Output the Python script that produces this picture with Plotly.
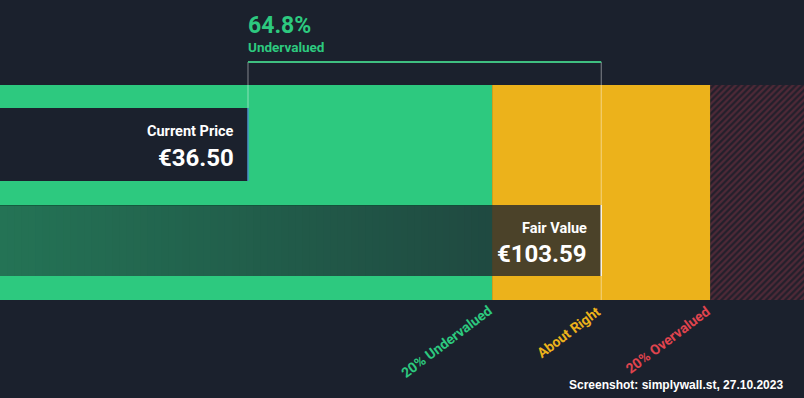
import plotly.graph_objects as go

# ---- data ----
current_price = 36.50
fair_value = 103.59
undervalued_pct = 64.8
zone_labels = ["20% Undervalued", "About Right", "20% Overvalued"]
zone_factors = [0.8, 1.2]
currency = "€"
footer = "Screenshot: simplywall.st, 27.10.2023"

BG = "#1b212d"
GREEN = "#2dc97f"
YELLOW = "#ecb21b"
RED = "#e0444e"
FONT = "Roboto"

xmin, xmax = -10.6, 142.1
lo = fair_value * zone_factors[0]
hi = fair_value * zone_factors[1]


def hex2rgb(h):
    h = h.lstrip("#")
    return tuple(int(h[i:i + 2], 16) for i in (0, 2, 4))


def blend(base, over, a):
    b = hex2rgb(base)
    o = hex2rgb(over)
    return "rgb(%d,%d,%d)" % tuple(round(b[i] * (1 - a) + o[i] * a) for i in range(3))


fig = go.Figure()

band_top, band_bot = 85, 300
yc = (band_top + band_bot) / 2
bw = band_bot - band_top
fig.add_trace(go.Bar(orientation="h", y=[yc], x=[lo - (xmin - 5)], base=[xmin - 5], width=[bw],
                     marker=dict(color=GREEN, line=dict(width=0)), hoverinfo="skip"))
fig.add_trace(go.Bar(orientation="h", y=[yc], x=[hi - lo], base=[lo], width=[bw],
                     marker=dict(color=YELLOW, line=dict(width=0)), hoverinfo="skip"))
fig.add_trace(go.Bar(orientation="h", y=[yc], x=[xmax + 5 - hi], base=[hi], width=[bw],
                     marker=dict(color=BG, line=dict(width=0),
                                 pattern=dict(shape="/", fgcolor="#7a3343", bgcolor="#231f2b",
                                              size=4.5, solidity=0.5)),
                     hoverinfo="skip"))

shapes = []
# current price box
shapes.append(dict(type="rect", xref="x", yref="y", x0=xmin - 5, x1=current_price, y0=108, y1=181,
                   fillcolor=BG, line=dict(width=0), layer="above"))
shapes.append(dict(type="line", xref="x", yref="y", x0=current_price, x1=current_price, y0=108, y1=181,
                   line=dict(color="#4a90c8", width=1.5), layer="above"))

# fair value box: gradient overlay (opaque blended slices, overlapping)
fv_y0, fv_y1 = 205, 276
n = 70
step = (lo - xmin) / n
for i in range(n):
    a0 = xmin + step * i
    t = (i + 0.5) / n
    alpha = 0.51 + 0.25 * t
    shapes.append(dict(type="rect", xref="x", yref="y", x0=a0 - (0.3 if i == 0 else 0), x1=a0 + step * 1.6,
                       y0=fv_y0, y1=fv_y1,
                       fillcolor=blend(GREEN, BG, alpha), line=dict(width=0), layer="above"))
shapes.append(dict(type="rect", xref="x", yref="y", x0=lo, x1=fair_value, y0=fv_y0, y1=fv_y1,
                   fillcolor=blend(YELLOW, BG, 0.77), line=dict(width=0), layer="above"))
shapes.append(dict(type="line", xref="x", yref="y", x0=xmin, x1=lo, y0=fv_y0 + 0.5, y1=fv_y0 + 0.5,
                   line=dict(color="rgba(10,80,50,0.6)", width=1), layer="above"))
shapes.append(dict(type="line", xref="x", yref="y", x0=fair_value, x1=fair_value, y0=fv_y0, y1=fv_y1,
                   line=dict(color="rgba(255,255,255,0.85)", width=1.5), layer="above"))

# bracket lines
shapes.append(dict(type="line", xref="x", yref="y", x0=current_price, x1=current_price, y0=62, y1=108,
                   line=dict(color="rgba(255,255,255,0.45)", width=1), layer="above"))
shapes.append(dict(type="line", xref="x", yref="y", x0=fair_value, x1=fair_value, y0=62, y1=300,
                   line=dict(color="rgba(255,255,255,0.45)", width=1), layer="above"))
shapes.append(dict(type="line", xref="x", yref="y", x0=current_price, x1=fair_value, y0=62, y1=62,
                   line=dict(color="#3fbf80", width=2), layer="above"))

ann = []
ann.append(dict(x=current_price, y=25, xref="x", yref="y", text=f"<b>{undervalued_pct:.1f}%</b>",
                showarrow=False, xanchor="left", yanchor="middle", xshift=-2,
                font=dict(family=FONT, size=23, color=GREEN)))
ann.append(dict(x=current_price, y=47, xref="x", yref="y", text="<b>Undervalued</b>",
                showarrow=False, xanchor="left", yanchor="middle", xshift=-2,
                font=dict(family=FONT, size=13.5, color=GREEN)))
ann.append(dict(x=current_price, y=131, xref="x", yref="y", text="<b>Current Price</b>",
                showarrow=False, xanchor="right", yanchor="middle", xshift=-12,
                font=dict(family=FONT, size=14.5, color="white")))
ann.append(dict(x=current_price, y=158, xref="x", yref="y", text=f"<b>{currency}{current_price:.2f}</b>",
                showarrow=False, xanchor="right", yanchor="middle", xshift=-12,
                font=dict(family=FONT, size=24, color="white")))
ann.append(dict(x=fair_value, y=228, xref="x", yref="y", text="<b>Fair Value</b>",
                showarrow=False, xanchor="right", yanchor="middle", xshift=-12,
                font=dict(family=FONT, size=14.5, color="white")))
ann.append(dict(x=fair_value, y=254, xref="x", yref="y", text=f"<b>{currency}{fair_value:.2f}</b>",
                showarrow=False, xanchor="right", yanchor="middle", xshift=-12,
                font=dict(family=FONT, size=24, color="white")))

for xv, lab, col in zip([lo, fair_value, hi], zone_labels, [GREEN, YELLOW, RED]):
    ann.append(dict(x=xv, y=300, xref="x", yref="y", text=f"<b>{lab}</b>", textangle=-37,
                    showarrow=False, xanchor="right", yanchor="top", xshift=5,
                    font=dict(family=FONT, size=14, color=col)))

ann.append(dict(x=1, y=0, xref="paper", yref="paper", text=f"<b>{footer}</b>",
                showarrow=False, xanchor="right", yanchor="bottom", xshift=-19, yshift=4,
                font=dict(family="Arial", size=12, color="white")))

fig.update_layout(
    width=804, height=398, margin=dict(l=0, r=0, t=0, b=0),
    paper_bgcolor=BG, plot_bgcolor=BG, showlegend=False, barmode="overlay",
    xaxis=dict(range=[xmin, xmax], visible=False, fixedrange=True),
    yaxis=dict(range=[398, 0], visible=False, fixedrange=True),
    shapes=shapes, annotations=ann,
)
fig.write_html("out.html", config={"displayModeBar": False},
               post_script="document.body.style.margin='0px';document.body.style.overflow='hidden';")
